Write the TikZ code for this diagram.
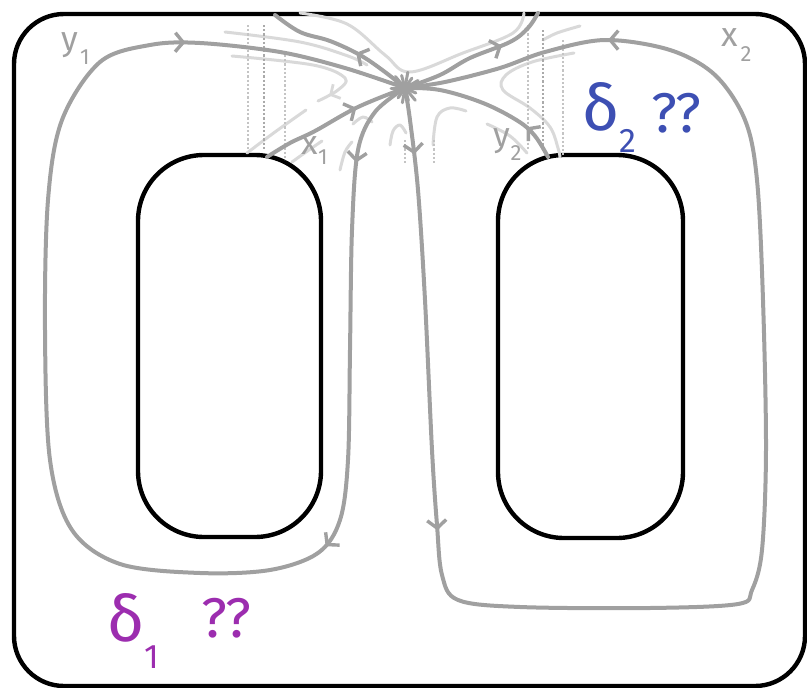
\documentclass[tikz,border=0pt]{standalone}
\usepackage{fontspec}
\newfontfamily\hand{Fira Sans}
\usetikzlibrary{arrows.meta,decorations.markings}
\definecolor{curve}{HTML}{A0A0A0}
\definecolor{faint}{HTML}{D9D9D9}
\definecolor{dotc}{HTML}{C4C4C4}
\definecolor{deltaone}{HTML}{9C2DAF}
\definecolor{deltatwo}{HTML}{3D4FB3}
\tikzset{
  wall/.style={draw=black, line width=4.4pt, rounded corners=#1},
  wall/.default=55pt,
  loopline/.style={draw=curve, line width=4pt, line cap=round, line join=round},
  faintline/.style={draw=faint, line width=3pt, line cap=round, line join=round},
  dotline/.style={draw=dotc, line width=2.2pt, dotted},
  tipat/.style={postaction={decorate, decoration={markings,
      mark=at position #1 with {\arrow[color=curve]{Straight Barb[length=8pt,width=19pt,line width=3.4pt]}}}}},
  fainttip/.style={postaction={decorate, decoration={markings,
      mark=at position #1 with {\arrow[color=faint]{Straight Barb[length=7pt,width=16pt,line width=2.8pt]}}}}},
  lbl/.style={text=curve, font=\hand\fontsize{34}{34}\selectfont, inner sep=0pt},
  sublbl/.style={text=curve, font=\hand\fontsize{22}{22}\selectfont, inner sep=0pt},
  bigtxt/.style={font=\hand\fontsize{64}{64}\selectfont, inner sep=0pt},
  subtxt/.style={font=\hand\fontsize{34}{34}\selectfont, inner sep=0pt},
  asktxt/.style={font=\hand\fontsize{56}{56}\selectfont, inner sep=0pt},
}
\begin{document}
\begin{tikzpicture}[x=1pt, y=-1pt]
\useasboundingbox (0,0) rectangle (807,688);

% outer boundary and the two holes
\draw[wall=50pt] (14,14) rectangle (805,686);
\draw[wall=66pt] (138,155) rectangle (321,537);
\draw[wall=66pt] (498,155) rectangle (683,538);

\coordinate (v) at (405,88);

% faint background flow lines
\draw[faintline] plot[smooth, tension=0.6] coordinates {(300,13) (347,24) (385,55) (410,72) (463,53) (513,33) (524,13)};
\draw[faintline] plot[smooth, tension=0.6] coordinates {(225,32) (300,42) (348,56) (367,65)};
\draw[faintline, fainttip=0.92] plot[smooth, tension=0.6] coordinates {(232,56) (313,65) (345,78) (338,90) (318,101)};
\draw[faintline] plot[smooth, tension=0.6] coordinates {(247,153) (275,132) (306,110)};
\draw[faintline] plot[smooth, tension=0.6] coordinates {(292,162) (306,152) (322,141)};
\draw[faintline] plot[smooth, tension=0.6] coordinates {(340,170) (345,152) (352,142)};
\draw[faintline] plot[smooth, tension=0.6] coordinates {(353,124) (363,117) (372,122)};
\draw[faintline] plot[smooth, tension=0.6] coordinates {(390,145) (393,131) (400,125) (406,133)};
\draw[faintline] plot[smooth, tension=0.6] coordinates {(433,145) (437,117) (450,108) (466,111)};
\draw[faintline] plot[smooth, tension=0.6] coordinates {(487,124) (510,136) (527,153)};
\draw[faintline] plot[smooth, tension=0.6] coordinates {(574,53) (532,62) (506,75) (503,90) (530,108) (550,127) (558,148) (560,157)};
\draw[faintline] plot[smooth, tension=0.6] coordinates {(543,40) (557,33) (580,26)};

% dotted verticals
\draw[dotline] (248,25) -- (248,150);
\draw[dotline, draw=curve!90] (264,25) -- (264,150);
\draw[dotline] (285,55) -- (285,160);
\draw[dotline] (528,25) -- (528,150);
\draw[dotline, draw=curve!90] (543,30) -- (543,150);
\draw[dotline] (563,40) -- (563,155);
\draw[dotline] (405,140) -- (405,165);
\draw[dotline] (434,140) -- (434,165);

% loop y1 around the left hole
\draw[loopline, tipat=0.06, tipat=0.31, tipat=0.855] plot[smooth, tension=0.55] coordinates {
  (v) (375,112) (358,150) (352,230) (350,350) (348,460) (340,520) (318,553) (270,570)
  (200,573) (120,564) (72,530) (50,460) (45,330) (48,200) (62,120) (100,62) (150,45)
  (200,43) (280,52) (345,68) (v)};

% loop x2 around the right hole
\draw[loopline, tipat=0.04, tipat=0.265, tipat=0.875] plot[smooth, tension=0.55] coordinates {
  (v) (410,120) (418,190) (425,300) (432,450) (437,525) (442,575) (458,600) (520,607)
  (650,608) (738,604) (752,590) (762,550) (766,450) (763,300) (757,180) (745,120)
  (715,75) (670,50) (605,40) (545,52) (500,68) (445,82) (v)};

% x1: from the left hole into the vertex, and out through the top
\draw[loopline, tipat=0.66] plot[smooth, tension=0.6] coordinates {(267,157) (290,143) (315,131) (358,107) (v)};
\draw[loopline, tipat=0.4] plot[smooth, tension=0.6] coordinates {(v) (385,72) (360,55) (330,41) (300,32) (275,15)};
% out through the top on the right
\draw[loopline, tipat=0.68] plot[smooth, tension=0.6] coordinates {(v) (440,75) (470,58) (510,42) (528,28) (538,13)};
% y2: from the right hole into the vertex
\draw[loopline, tipat=0.22] plot[smooth, tension=0.6] coordinates {(548,157) (535,136) (518,121) (483,103) (440,90) (v)};

% the vertex
\foreach \a/\r in {0/15,25/12,50/16,75/13,100/15,125/12,150/16,180/14,205/12,230/15,255/13,280/16,305/12,330/15}
  \draw[curve, line width=3pt, line cap=round] (v) -- ++(\a:\r);

% path labels
\node[lbl] (ly) at (70,45) {y};
\node[sublbl] at (85,57) {1};
\node[lbl] (lx) at (310,146) {x};
\node[sublbl] at (323,157) {1};
\node[lbl] (ly2) at (502,141) {y};
\node[sublbl] at (516,153) {2};
\node[lbl] (lx2) at (730,38) {x};
\node[sublbl] at (746,54) {2};

% open questions
\node[bigtxt, text=deltatwo] (d2) at (601,107) {δ};
\node[subtxt, text=deltatwo] at (628,141) {2};
\node[asktxt, text=deltatwo] (q2) at (676,113) {??};
\node[bigtxt, text=deltaone] (d1) at (126,618) {δ};
\node[subtxt, text=deltaone] at (152,657) {1};
\node[asktxt, text=deltaone] (q1) at (226,618) {??};
\end{tikzpicture}
\end{document}
